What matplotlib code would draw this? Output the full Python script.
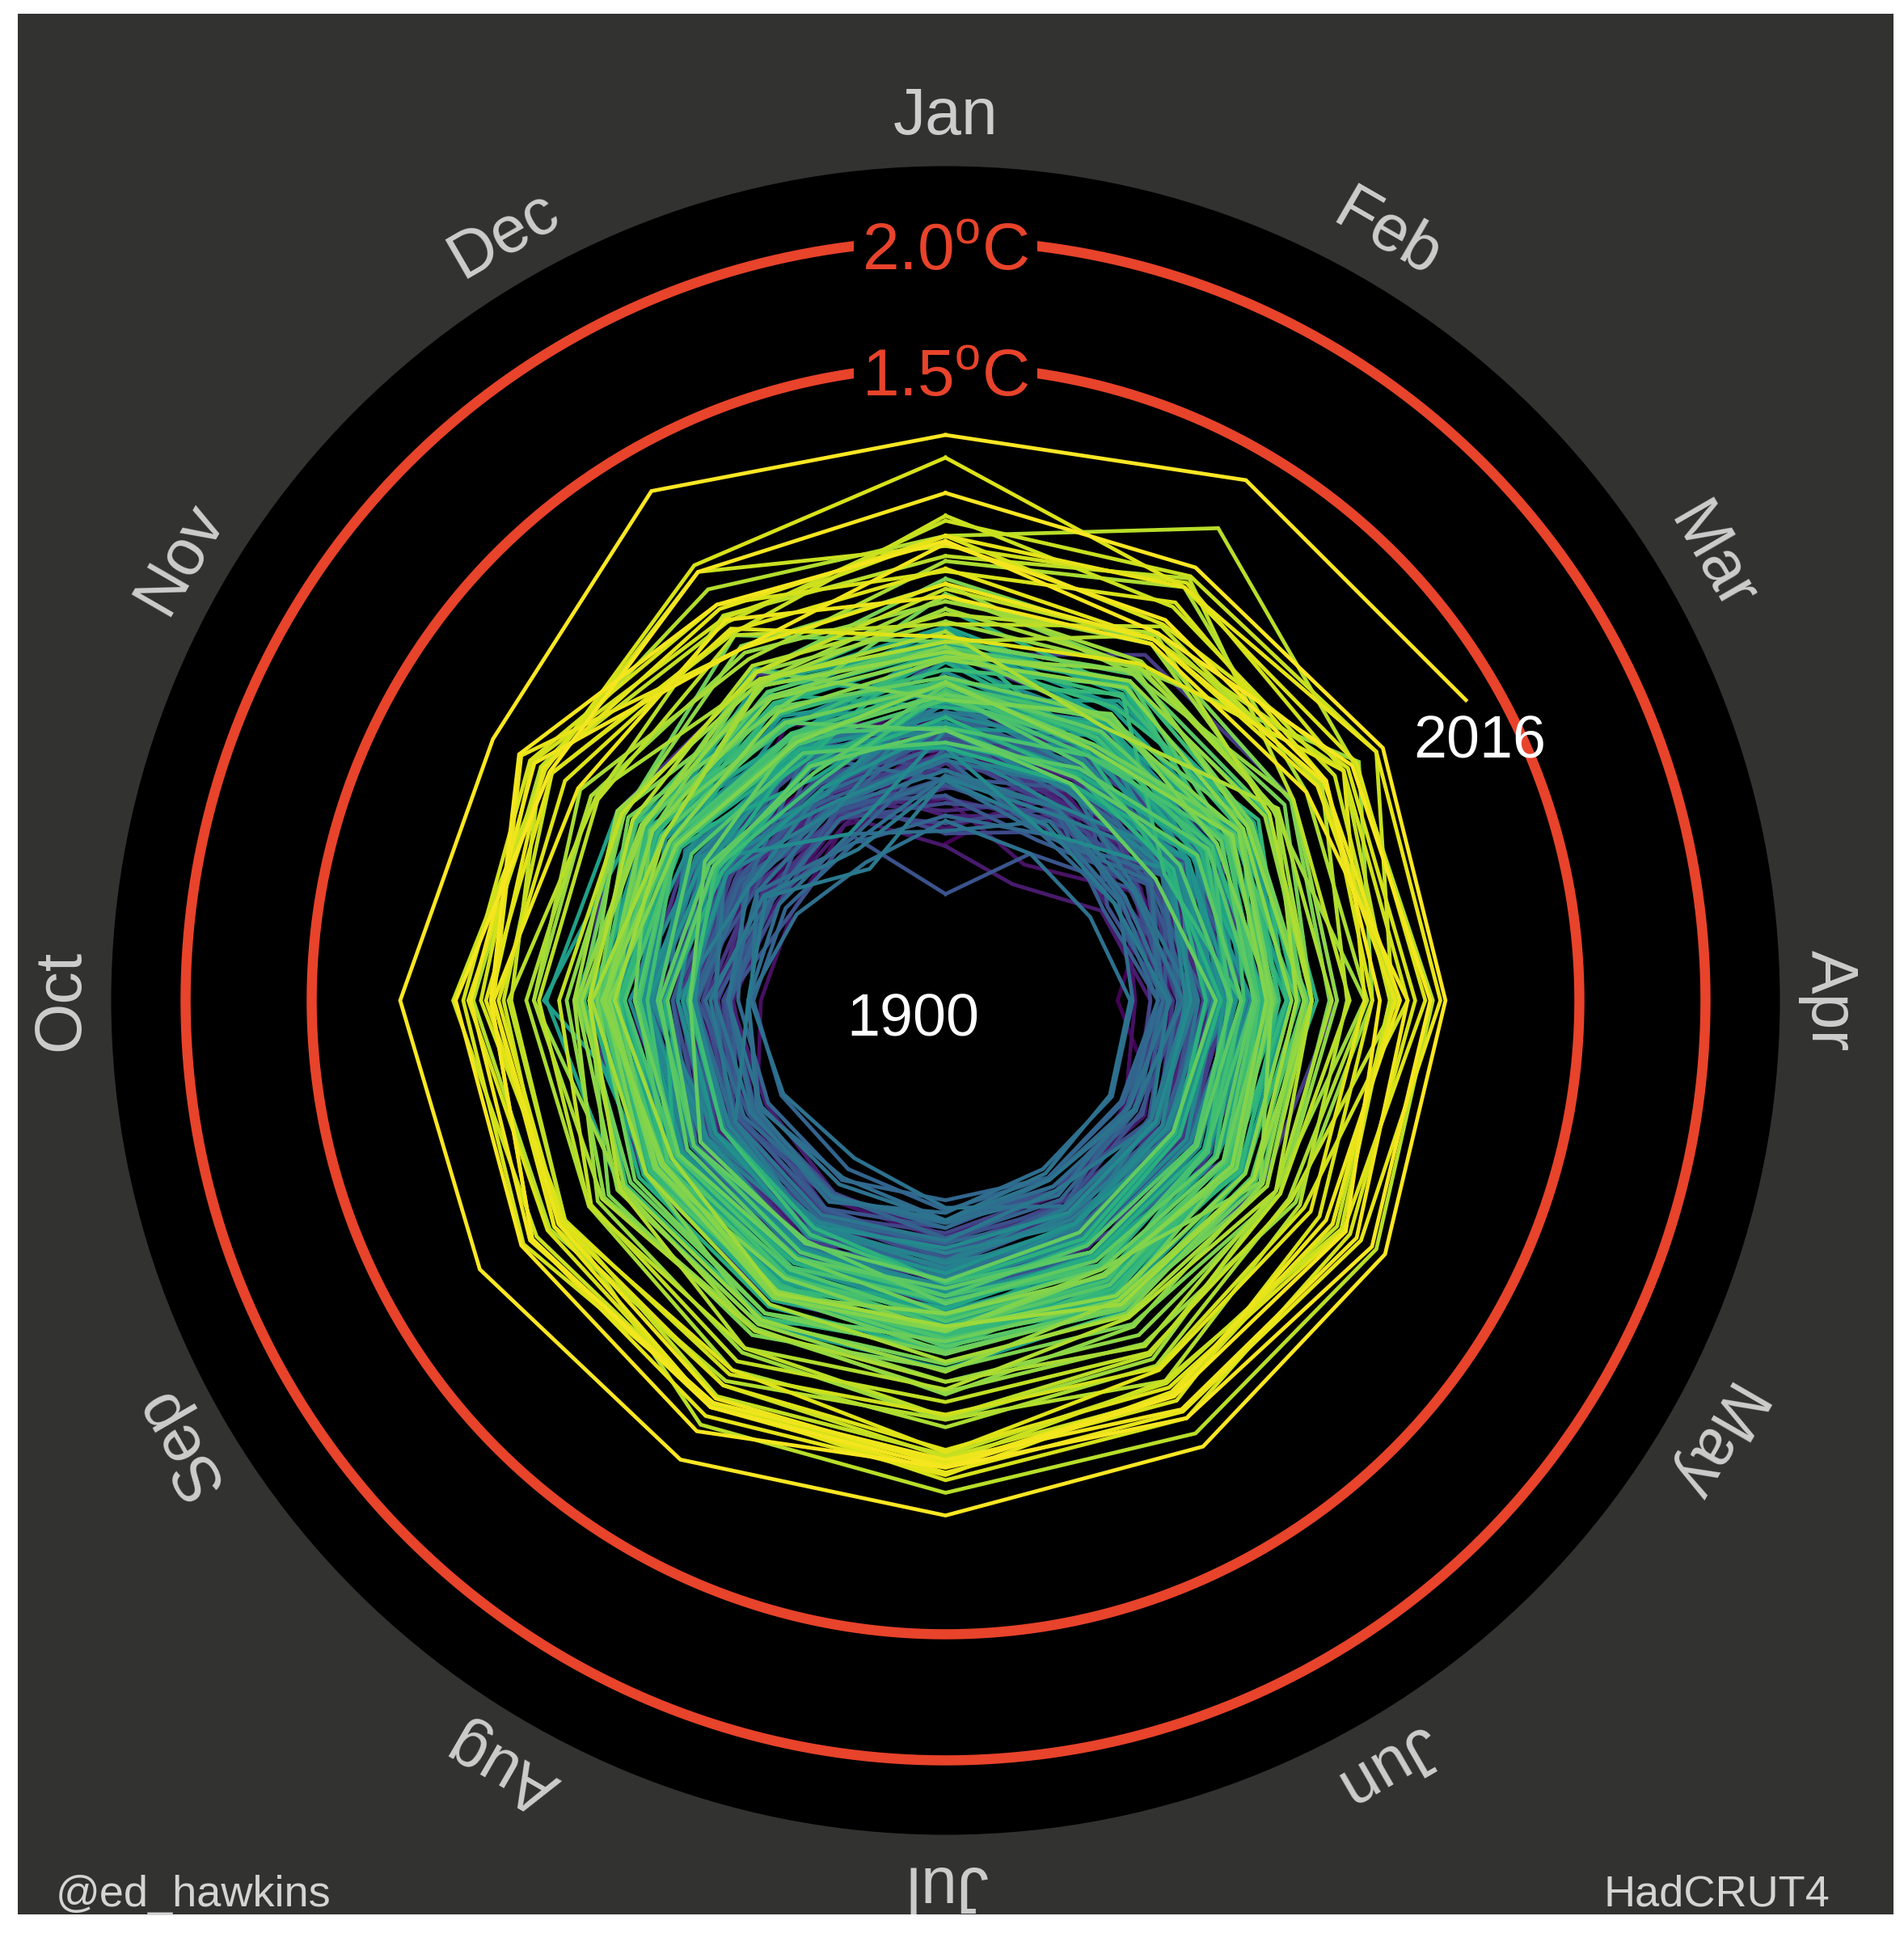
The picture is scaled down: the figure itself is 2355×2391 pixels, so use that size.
import numpy as np
import matplotlib
matplotlib.use("Agg")
import matplotlib.pyplot as plt
from matplotlib.patches import Rectangle

plt.rcParams["font.family"] = ["Liberation Sans", "DejaVu Sans"]
plt.rcParams["mathtext.fontset"] = "custom"
plt.rcParams["mathtext.rm"] = "Liberation Sans"

# HadCRUT4 global monthly temperature anomalies, hundredths of a degree C
# relative to 1961-1990, one row per year (Jan..Dec).
FIRST_YEAR = 1850
ANOM_1850S = [
    [-70, -29, -36, -64, -31, -19, -21, -21, -28, -41, -48, -39],
    [-33, -35, -22, -20, -22, -16, -11, -10, -17, -4, -19, -32],
    [-28, -31, -44, -28, -21, -13, -3, -15, -20, -21, -28, -6],
    [-22, -40, -33, -25, -28, -20, -13, -21, -28, -25, -32, -50],
    [-31, -28, -29, -29, -27, -25, -16, -14, -21, -20, -37, -22],
    [-19, -35, -33, -26, -30, -20, -12, -20, -29, -31, -39, -39],
    [-28, -38, -52, -35, -35, -21, -21, -28, -43, -40, -51, -34],
    [-30, -41, -50, -57, -50, -38, -31, -37, -46, -59, -62, -52],
    [-52, -70, -46, -47, -41, -44, -37, -41, -42, -37, -55, -49],
    [-23, -26, -25, -26, -33, -25, -22, -21, -31, -36, -39, -35],
]
ANOM_1860S = [
    [-31, -46, -51, -40, -30, -26, -22, -24, -27, -31, -43, -41],
    [-64, -37, -43, -43, -39, -31, -34, -28, -34, -37, -49, -47],
    [-71, -79, -61, -51, -46, -37, -38, -43, -45, -48, -55, -52],
    [-25, -16, -37, -30, -36, -23, -21, -27, -28, -30, -32, -30],
    [-59, -48, -58, -45, -49, -43, -39, -44, -50, -47, -52, -58],
    [-17, -41, -36, -27, -27, -23, -19, -26, -25, -30, -33, -32],
    [-12, -22, -38, -24, -26, -19, -17, -20, -27, -29, -30, -37],
    [-41, -20, -53, -29, -35, -24, -22, -25, -28, -31, -36, -41],
    [-57, -41, -27, -30, -17, -15, -11, -13, -17, -18, -26, -16],
    [-13, -5, -33, -29, -23, -23, -23, -24, -26, -30, -40, -44],
]
ANOM_1870S = [
    [-22, -42, -32, -26, -23, -21, -18, -21, -25, -29, -32, -40],
    [-52, -50, -21, -29, -31, -27, -25, -24, -31, -41, -43, -49],
    [-48, -36, -31, -22, -22, -16, -14, -14, -13, -16, -19, -22],
    [-24, -31, -31, -32, -31, -26, -23, -26, -31, -34, -38, -38],
    [-22, -28, -36, -39, -37, -36, -31, -35, -39, -42, -48, -49],
    [-38, -53, -53, -42, -35, -35, -31, -33, -37, -37, -44, -47],
    [-27, -29, -40, -38, -35, -40, -33, -37, -44, -45, -50, -48],
    [-38, -36, -28, -22, -11, -2, 2, 5, 6, 12, 18, 17],
    [5, 26, 27, 23, 13, 9, -2, -6, -11, -11, -14, -18],
    [-18, -16, -16, -21, -21, -20, -22, -20, -24, -26, -33, -38],
]
ANOM_1880S = [
    [-13, -19, -15, -24, -19, -29, -22, -16, -20, -30, -32, -23],
    [-28, -23, -12, -6, -5, -20, -11, -17, -24, -30, -34, -22],
    [6, -3, -4, -26, -24, -31, -31, -21, -18, -28, -29, -38],
    [-34, -44, -23, -30, -25, -15, -16, -23, -32, -33, -39, -30],
    [-32, -22, -44, -51, -45, -44, -40, -34, -36, -44, -53, -46],
    [-62, -44, -40, -45, -48, -45, -35, -34, -32, -30, -36, -15],
    [-41, -48, -37, -32, -31, -38, -28, -33, -27, -34, -36, -38],
    [-66, -55, -44, -40, -35, -36, -33, -33, -35, -36, -39, -49],
    [-54, -46, -51, -34, -30, -21, -17, -20, -21, -13, -18, -23],
    [-23, -6, -10, -5, -12, -16, -14, -17, -22, -24, -27, -31],
]
ANOM_1890S = [
    [-26, -33, -47, -38, -43, -38, -37, -44, -45, -45, -56, -45],
    [-47, -50, -32, -34, -29, -21, -26, -24, -25, -29, -45, -25],
    [-29, -24, -58, -45, -38, -45, -44, -41, -38, -45, -62, -56],
    [-90, -65, -45, -44, -39, -31, -33, -36, -39, -41, -53, -46],
    [-44, -35, -32, -45, -42, -47, -42, -37, -42, -34, -40, -42],
    [-51, -59, -40, -34, -36, -33, -30, -33, -32, -29, -37, -35],
    [-27, -20, -29, -27, -19, -10, -7, -13, -13, -16, -23, -14],
    [-24, -24, -22, -12, -11, -16, -13, -17, -17, -24, -32, -33],
    [-22, -45, -60, -48, -49, -38, -32, -37, -38, -47, -53, -35],
    [-22, -39, -39, -29, -33, -33, -27, -19, -18, -21, -21, -40],
]
ANOM_1900S = [
    [-35, -15, -16, -17, -18, -15, -15, -19, -14, -9, -30, -17],
    [-18, -25, -15, -17, -21, -25, -21, -29, -26, -32, -38, -45],
    [-18, -28, -33, -39, -45, -41, -38, -43, -45, -46, -52, -58],
    [-32, -23, -38, -46, -51, -51, -49, -55, -57, -56, -59, -60],
    [-59, -56, -55, -48, -52, -51, -53, -50, -51, -50, -40, -43],
    [-36, -56, -33, -40, -36, -34, -36, -32, -34, -41, -29, -37],
    [-30, -35, -27, -18, -32, -24, -27, -24, -35, -33, -41, -20],
    [-45, -56, -38, -48, -48, -50, -42, -43, -40, -37, -52, -49],
    [-44, -44, -52, -46, -45, -47, -45, -51, -47, -54, -56, -56],
    [-65, -50, -53, -58, -56, -55, -48, -40, -44, -46, -46, -60],
]
ANOM_1910S = [
    [-43, -44, -50, -43, -48, -43, -44, -42, -46, -54, -64, -69],
    [-61, -65, -66, -59, -57, -53, -45, -48, -48, -46, -42, -43],
    [-37, -34, -45, -34, -35, -38, -50, -60, -58, -55, -46, -44],
    [-41, -44, -46, -38, -46, -50, -45, -42, -43, -41, -31, -24],
    [-22, -35, -33, -32, -28, -27, -23, -20, -21, -17, -20, -15],
    [-18, -8, -18, -7, -12, -15, -11, -15, -18, -22, -13, -22],
    [-15, -23, -32, -33, -36, -45, -37, -34, -36, -39, -49, -63],
    [-45, -52, -55, -44, -38, -37, -29, -27, -36, -54, -50, -72],
    [-44, -47, -24, -36, -38, -28, -25, -30, -23, -20, -27, -37],
    [-13, -26, -25, -20, -30, -34, -28, -29, -25, -26, -42, -35],
]
ANOM_1920S = [
    [-14, -15, -17, -24, -28, -32, -29, -26, -22, -30, -32, -45],
    [-7, -22, -27, -24, -22, -22, -13, -17, -16, -13, -21, -16],
    [-31, -43, -21, -28, -31, -29, -26, -28, -33, -32, -22, -26],
    [-25, -36, -30, -37, -33, -30, -32, -31, -27, -15, -18, -18],
    [-25, -33, -18, -26, -26, -24, -28, -29, -31, -33, -24, -42],
    [-35, -33, -21, -21, -27, -24, -22, -18, -21, -16, -7, -11],
    [2, -5, -8, -17, -20, -20, -16, -10, -14, -13, -7, -17],
    [-19, -16, -26, -26, -22, -22, -19, -18, -12, -7, -19, -38],
    [-2, -12, -26, -23, -31, -30, -17, -19, -23, -16, -15, -17],
    [-32, -55, -29, -35, -36, -35, -34, -29, -27, -26, -21, -56],
]
ANOM_1930S = [
    [-25, -18, -11, -17, -16, -14, -15, -12, -9, -3, 5, -15],
    [-6, -18, -9, -13, -13, -3, -3, -6, -8, -3, -14, -5],
    [4, -19, -19, -11, -13, -17, -17, -13, -6, -11, -21, -20],
    [-22, -27, -29, -24, -26, -30, -24, -24, -27, -28, -32, -35],
    [-24, -11, -21, -22, -13, -9, -9, -10, -12, -12, -4, -10],
    [-8, -4, -22, -29, -26, -21, -16, -18, -17, -14, -24, -16],
    [-22, -34, -21, -18, -17, -16, -11, -13, -11, -9, -6, -2],
    [-10, -3, -18, -7, -2, -1, 2, 4, 5, 5, 3, -11],
    [10, 3, 8, 3, -8, -5, -4, -3, -1, 6, -1, -15],
    [-4, -4, -14, -9, -12, -10, -8, -8, -8, 8, 5, 20],
]
ANOM_1940S = [
    [-13, 5, 6, 4, -2, 2, 4, -1, 2, -3, 1, 15],
    [-11, -7, 0, 4, 4, 5, 8, -1, -11, 27, 9, 6],
    [15, 1, -1, -4, -1, -2, -6, -7, -5, -4, -2, -4],
    [-14, -5, -11, -1, -4, -6, 5, -2, 4, 15, 6, 13],
    [16, 8, 9, 7, 10, 10, 14, 16, 17, 26, 18, 14],
    [9, -4, 1, 12, 1, 1, -1, 15, 6, 5, -2, -20],
    [12, -3, -4, -1, -8, -15, -5, -8, 1, -5, -7, -30],
    [-11, -12, -1, -4, -3, 6, -1, -4, -6, 7, 4, -11],
    [5, -13, -17, -4, 1, 0, -8, -5, -5, -4, -9, -19],
    [2, -13, -4, -7, -8, -14, -10, -6, -3, -3, -8, -17],
]
ANOM_1950S = [
    [-30, -28, -13, -20, -12, -9, -13, -15, -8, -21, -27, -17],
    [-32, -33, -18, -7, -1, -4, 1, 5, 3, 8, -3, 9],
    [12, 10, -5, 3, 2, 0, 4, 3, 6, -2, -10, 3],
    [6, 13, 15, 15, 9, 9, 7, 8, 8, 9, 2, 8],
    [-16, -6, -15, -15, -14, -15, -12, -12, -9, -4, -11, -22],
    [15, -19, -30, -23, -25, -21, -15, -17, -17, -21, -30, -25],
    [-20, -29, -28, -29, -27, -23, -20, -28, -30, -30, -28, -24],
    [-12, -10, -10, -6, -1, 4, 0, 3, 3, 2, 5, 12],
    [23, 10, 6, 0, 3, -4, 4, -2, -1, 2, 0, 4],
    [5, 2, 11, 3, -1, 0, 2, 0, -4, -5, -2, 2],
]
ANOM_1960S = [
    [-6, 8, -32, -15, -9, -6, -6, -1, 2, -3, -7, 7],
    [7, 14, 8, 8, 5, 8, 1, 2, 3, 0, 4, -7],
    [5, 7, 3, 0, -3, 2, 0, -1, 0, 5, 2, -1],
    [-1, 12, -6, -9, -2, -2, 6, 13, 14, 11, 9, -6],
    [-5, -12, -13, -19, -17, -17, -20, -25, -30, -31, -27, -32],
    [-9, -17, -10, -20, -12, -11, -15, -14, -10, -11, -8, -10],
    [-7, -4, -1, -14, -13, -4, -3, -6, -7, -14, -9, -11],
    [-11, -20, -4, -8, 0, -10, -7, -5, -3, 0, -6, -10],
    [-24, -20, 4, -10, -13, -10, -13, -10, -9, -5, -10, -15],
    [-13, -15, 0, 7, 10, 6, 2, 1, 5, 5, 10, 12],
]
ANOM_1970S = [
    [8, 14, -3, -1, -4, -6, -5, -9, -5, -10, -8, -13],
    [-10, -24, -25, -19, -18, -20, -15, -17, -17, -18, -16, -19],
    [-30, -26, -12, -9, -5, -2, -2, 2, -3, 5, 2, 9],
    [11, 17, 16, 10, 8, 8, 5, 1, 1, 2, -2, -5],
    [-25, -30, -17, -15, -17, -17, -18, -14, -14, -19, -24, -28],
    [-7, -9, -6, -10, -8, -13, -12, -22, -17, -22, -26, -25],
    [-25, -33, -36, -25, -28, -26, -21, -21, -20, -31, -22, -12],
    [-11, -3, 7, 10, 12, 9, 7, 3, 1, -2, 7, 2],
    [-4, -2, -2, -4, -5, -9, -8, -14, -10, -9, 3, -5],
    [-7, -15, 3, -2, -1, 5, 3, 11, 12, 13, 15, 35],
]
ANOM_1980S = [
    [10, 18, 8, 11, 15, 8, 8, 11, 10, 6, 13, 1],
    [29, 20, 23, 13, 9, 11, 12, 15, 5, 3, 6, 19],
    [-13, -1, -8, -3, 1, -7, -1, -5, 1, 2, 2, 18],
    [35, 31, 26, 20, 21, 16, 14, 21, 22, 9, 17, 7],
    [8, -4, 2, -3, 12, -9, -1, 4, 0, 1, -9, -14],
    [-6, -17, -1, -5, -1, -6, -8, 3, -3, 4, -6, 0],
    [3, 11, 4, 5, 5, 3, -2, 1, -2, 3, 2, 6],
    [4, 19, 6, 10, 13, 17, 24, 18, 24, 18, 15, 30],
    [33, 17, 27, 23, 21, 21, 19, 16, 18, 14, 7, 12],
    [6, 14, 14, 13, 9, 5, 15, 14, 15, 12, 6, 18],
]
ANOM_1990S = [
    [18, 20, 57, 37, 28, 25, 23, 19, 16, 31, 30, 27],
    [26, 31, 18, 34, 19, 32, 34, 29, 27, 15, 18, 14],
    [28, 23, 19, 7, 9, 7, -3, 2, -7, -1, -3, 13],
    [23, 21, 19, 13, 15, 12, 11, 7, 5, 8, -3, 14],
    [14, -7, 20, 21, 19, 26, 19, 19, 25, 31, 35, 24],
    [42, 57, 33, 35, 25, 35, 37, 37, 31, 34, 30, 15],
    [10, 35, 16, 13, 19, 13, 22, 27, 17, 9, 11, 21],
    [21, 36, 40, 27, 30, 42, 34, 42, 49, 55, 53, 56],
    [52, 84, 55, 61, 65, 66, 63, 62, 42, 41, 28, 44],
    [44, 61, 27, 28, 21, 30, 33, 27, 31, 29, 27, 35],
]
ANOM_2000S = [
    [17, 39, 39, 47, 26, 29, 27, 33, 30, 21, 16, 18],
    [31, 33, 50, 44, 47, 43, 48, 49, 42, 40, 53, 41],
    [58, 62, 65, 45, 45, 49, 49, 44, 47, 43, 48, 36],
    [60, 48, 46, 44, 49, 42, 51, 53, 55, 63, 51, 64],
    [48, 59, 50, 51, 32, 36, 32, 39, 42, 52, 57, 43],
    [52, 40, 52, 54, 53, 59, 58, 52, 61, 59, 58, 49],
    [38, 50, 42, 37, 39, 51, 51, 54, 50, 57, 51, 67],
    [83, 57, 56, 58, 50, 45, 46, 44, 44, 45, 42, 38],
    [12, 22, 50, 34, 35, 37, 47, 37, 43, 50, 48, 37],
    [39, 33, 38, 46, 45, 47, 56, 58, 57, 48, 52, 47],
]
ANOM_2010S = [
    [52, 57, 65, 64, 58, 56, 55, 54, 47, 47, 62, 29],
    [33, 33, 41, 48, 42, 48, 52, 50, 45, 47, 36, 42],
    [28, 31, 33, 51, 56, 55, 50, 52, 58, 56, 56, 29],
    [49, 42, 42, 40, 51, 49, 53, 54, 57, 48, 63, 49],
    [50, 36, 54, 60, 63, 59, 53, 65, 62, 62, 49, 64],
    [69, 66, 68, 66, 69, 72, 72, 78, 81, 84, 75, 101],
    [92, 106, 106],
]

MONTHS = ["Jan", "Feb", "Mar", "Apr", "May", "Jun",
          "Jul", "Aug", "Sep", "Oct", "Nov", "Dec"]
TARGET_LEVELS = [1.5, 2.0]
PREINDUSTRIAL = (1850, 1900)

# ---------------------------------------------------------------- data prep
rows = (ANOM_1850S + ANOM_1860S + ANOM_1870S + ANOM_1880S + ANOM_1890S +
        ANOM_1900S + ANOM_1910S + ANOM_1920S + ANOM_1930S + ANOM_1940S +
        ANOM_1950S + ANOM_1960S + ANOM_1970S + ANOM_1980S + ANOM_1990S +
        ANOM_2000S + ANOM_2010S)
years = [FIRST_YEAR + i for i in range(len(rows))]
series = np.concatenate([np.asarray(r, float) for r in rows]) / 100.0

# re-baseline to the 1850-1900 mean (pre-industrial)
n_pre = (PREINDUSTRIAL[1] - PREINDUSTRIAL[0] + 1) * 12
series = series - series[:n_pre].mean()

# ---------------------------------------------------------------- figure
W, H = 2355, 2391
fig = plt.figure(figsize=(W / 100, H / 100), dpi=100, facecolor="white")

panel = Rectangle((22 / W, 1 - 2368 / H), (2342 - 22) / W, (2368 - 17) / H,
                  transform=fig.transFigure, facecolor="#323230",
                  edgecolor="none", zorder=-5)
fig.add_artist(panel)

cx, cy, rad = 1169.5, 1237.5, 1032.0
ax = fig.add_axes([(cx - rad) / W, (H - cy - rad) / H, 2 * rad / W, 2 * rad / H],
                  projection="polar")
ax.set_facecolor("black")
ax.set_theta_zero_location("N")
ax.set_theta_direction(-1)
R_IN, R_OUT = -1.013, 2.295
ax.set_ylim(R_IN, R_OUT)
ax.grid(False)
ax.set_xticks([])
ax.set_yticks([])
ax.spines["polar"].set_visible(False)
px_per_deg = 2 * rad / 2 / (R_OUT - R_IN)

cmap = plt.get_cmap("viridis")
y0, y1 = years[0], years[-1]
step = 2 * np.pi / 12
for yi, yr in enumerate(years):
    start = yi * 12
    stop = min(start + 13, len(series))
    idx = np.arange(start, stop)
    theta = (idx - start) * step
    ax.plot(theta, series[idx], color=cmap((yr - y0) / (y1 - y0)),
            lw=3.4, solid_joinstyle="miter", zorder=2)

RED = "#e8432b"
ring = np.linspace(0, 2 * np.pi, 721)
for lev in TARGET_LEVELS:
    ax.plot(ring, np.full_like(ring, lev), color=RED, lw=9, zorder=3)
    ax.text(0, lev - 36 / px_per_deg, f"{lev:.1f}" + r"$^{\mathrm{o}}$" + "C",
            color=RED, fontsize=59, ha="center", va="baseline", zorder=4,
            bbox=dict(boxstyle="square,pad=0.12", fc="black", ec="none"))

LABEL_R = 2.49
for i, name in enumerate(MONTHS):
    t = ax.text(i * step, LABEL_R, name, rotation=-30 * i,
                rotation_mode="anchor", ha="center", va="center",
                fontsize=58, color="#cdcdcd", clip_on=True)
    t.set_clip_path(panel)

fig.text(1129 / W, 1 - 1282 / H, "1900", fontsize=53, color="white",
         ha="center", va="baseline", zorder=10)
fig.text(1830 / W, 1 - 938 / H, "2016", fontsize=53, color="white",
         ha="center", va="baseline", zorder=10)

fig.text(69 / W, 1 - 2358 / H, "@ed_hawkins", fontsize=39, color="#d4d4d4",
         ha="left", va="baseline")
fig.text(2263 / W, 1 - 2358 / H, "HadCRUT4", fontsize=39, color="#d4d4d4",
         ha="right", va="baseline")

fig.savefig("out.png", dpi=100, facecolor="white")
